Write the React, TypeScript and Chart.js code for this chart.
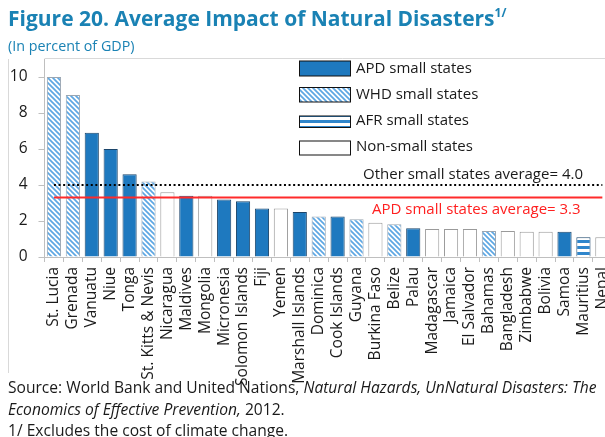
import React, { useEffect, useRef } from "react";
import { Chart, registerables } from "chart.js";

Chart.register(...registerables);

const categories = [
  "St. Lucia", "Grenada", "Vanuatu", "Niue", "Tonga", "St. Kitts & Nevis", "Nicaragua", "Maldives",
  "Mongolia", "Micronesia", "Solomon Islands", "Fiji", "Yemen", "Marshall Islands", "Dominica",
  "Cook Islands", "Guyana", "Burkina Faso", "Belize", "Palau", "Madagascar", "Jamaica", "El Salvador",
  "Bahamas", "Bangladesh", "Zimbabwe", "Bolivia", "Samoa", "Mauritius", "Nepal",
];
const values = [
  10.0, 9.0, 6.9, 6.0, 4.6, 4.2, 3.6, 3.4, 3.4, 3.2, 3.1, 2.7, 2.7, 2.5, 2.25,
  2.25, 2.1, 1.9, 1.82, 1.6, 1.55, 1.55, 1.55, 1.45, 1.45, 1.4, 1.4, 1.4, 1.1, 1.1,
];
const groups = [
  "WHD", "WHD", "APD", "APD", "APD", "WHD", "NON", "APD", "NON", "APD", "APD", "APD", "NON", "APD", "WHD",
  "APD", "WHD", "NON", "WHD", "APD", "NON", "NON", "NON", "WHD", "NON", "NON", "NON", "APD", "AFR", "NON",
];
const otherSmallAvg = 4.0;
const apdSmallAvg = 3.3;
const yMax = 11;
const yStep = 2;
const yLastTick = 10;
const legendGroups = ["APD", "WHD", "AFR", "NON"];
const legendLabels = ["APD small states", "WHD small states", "AFR small states", "Non-small states"];

const FONT = "'Open Sans', sans-serif";
const TEAL = "#1a82b4";
const APD_BLUE = "#1e79bf";
const TEXT = "#1a1a1a";

function makeDiagPattern(): CanvasPattern | string {
  const s = 5;
  const c = document.createElement("canvas");
  c.width = s;
  c.height = s;
  const g = c.getContext("2d");
  if (!g) return "#9cc8ee";
  g.fillStyle = "#ffffff";
  g.fillRect(0, 0, s, s);
  g.strokeStyle = "#5ea7e3";
  g.lineWidth = 1.7;
  g.beginPath();
  for (const o of [-s, 0, s]) {
    g.moveTo(o - 1, -1);
    g.lineTo(o + s + 1, s + 1);
  }
  g.stroke();
  return g.createPattern(c, "repeat") || "#9cc8ee";
}

function makeHPattern(): CanvasPattern | string {
  const c = document.createElement("canvas");
  c.width = 4;
  c.height = 6;
  const g = c.getContext("2d");
  if (!g) return "#6fb1e6";
  g.fillStyle = "#ffffff";
  g.fillRect(0, 0, 4, 6);
  g.fillStyle = "#2f86cc";
  g.fillRect(0, 0, 4, 3);
  return g.createPattern(c, "repeat") || "#6fb1e6";
}

export default function App() {
  const ref = useRef<HTMLCanvasElement | null>(null);

  useEffect(() => {
    const canvas = ref.current;
    if (!canvas) return;
    const diag = makeDiagPattern();
    const hpat = makeHPattern();
    const fillFor = (g: string) => (g === "APD" ? APD_BLUE : g === "WHD" ? diag : g === "AFR" ? hpat : "#ffffff");
    const borderFor = (g: string) =>
      g === "APD" ? "#1b456b" : g === "WHD" ? "#9aa6b2" : g === "AFR" ? "#1b456b" : "#9a9a9a";

    const decor = {
      id: "decor",
      beforeDraw(chart: any) {
        const ctx = chart.ctx;
        const a = chart.chartArea;
        ctx.save();
        ctx.strokeStyle = "#d9d9d9";
        ctx.lineWidth = 1;
        ctx.beginPath();
        ctx.moveTo(a.left, Math.round(a.top) - 0.5);
        ctx.lineTo(chart.width, Math.round(a.top) - 0.5);
        ctx.moveTo(8.5, a.top);
        ctx.lineTo(8.5, 373);
        ctx.stroke();
        ctx.restore();
      },
      afterDraw(chart: any) {
        const ctx = chart.ctx;
        const y = chart.scales.y;
        ctx.save();
        ctx.font = `15px ${FONT}`;
        ctx.textBaseline = "middle";
        ctx.textAlign = "left";
        ctx.fillStyle = TEXT;
        ctx.fillText(`Other small states average= ${otherSmallAvg.toFixed(1)}`, 363, y.getPixelForValue(otherSmallAvg) - 10);
        ctx.fillStyle = "#ff2020";
        ctx.fillText(`APD small states average= ${apdSmallAvg.toFixed(1)}`, 372, y.getPixelForValue(apdSmallAvg) + 12.5);
        const boxes = [
          { top: 61, h: 15 },
          { top: 87.5, h: 14.5 },
          { top: 116, h: 11.5 },
          { top: 141, h: 14 },
        ];
        const textY = [68.3, 95, 120.5, 147];
        legendGroups.forEach((g, i) => {
          const b = boxes[i];
          ctx.fillStyle = fillFor(g);
          ctx.fillRect(299.5, b.top, 51, b.h);
          ctx.strokeStyle = "#111111";
          ctx.lineWidth = 1;
          ctx.strokeRect(299.5, b.top, 51, b.h);
          ctx.fillStyle = TEXT;
          ctx.font = `15px ${FONT}`;
          ctx.textBaseline = "middle";
          ctx.fillText(legendLabels[i], 356, textY[i]);
        });
        ctx.restore();
      },
    };

    const chart = new Chart(canvas, {
      type: "bar",
      data: {
        labels: categories,
        datasets: [
          {
            type: "line",
            data: categories.map(() => otherSmallAvg),
            borderColor: "#000000",
            borderWidth: 2.2,
            borderDash: [2, 2.6],
            pointRadius: 0,
            order: 0,
          } as any,
          {
            type: "line",
            data: categories.map(() => apdSmallAvg),
            borderColor: "#ff2b2b",
            borderWidth: 2,
            pointRadius: 0,
            order: 0,
          } as any,
          {
            type: "bar",
            data: values,
            backgroundColor: groups.map(fillFor),
            borderColor: groups.map(borderFor),
            borderWidth: 1,
            barPercentage: 0.75,
            categoryPercentage: 1,
            order: 1,
          } as any,
        ],
      },
      options: {
        animation: false,
        responsive: false,
        devicePixelRatio: 1,
        layout: { padding: { left: 0, top: 59, right: 28.2, bottom: 0 } },
        plugins: { legend: { display: false }, tooltip: { enabled: false } },
        scales: {
          x: {
            grid: { offset: true, drawOnChartArea: false, drawTicks: true, tickLength: 5, color: "#bfbfbf" },
            border: { color: "#bfbfbf" },
            ticks: {
              autoSkip: false,
              minRotation: 90,
              maxRotation: 90,
              padding: 5,
              font: { family: FONT, size: 15.5 },
              color: TEXT,
            },
            afterFit: (s: any) => {
              s.height = 180;
            },
          },
          y: {
            min: 0,
            max: yMax,
            ticks: { stepSize: yStep, padding: 11, font: { family: FONT, size: 15.5 }, color: TEXT },
            grid: { drawOnChartArea: false, tickLength: 6, color: "#bfbfbf" },
            border: { color: "#bfbfbf" },
            afterFit: (s: any) => {
              s.width = 44.5;
            },
            afterBuildTicks: (s: any) => {
              s.ticks = s.ticks.filter((t: any) => t.value % yStep === 0 && t.value <= yLastTick);
            },
          },
        },
      } as any,
      plugins: [decor],
    });
    return () => chart.destroy();
  }, []);

  return (
    <div style={{ position: "absolute", left: 0, top: 0, width: 605, height: 437, overflow: "hidden", background: "#fff" }}>
      <canvas ref={ref} width={640} height={437} style={{ position: "absolute", left: 0, top: 0, width: 640, height: 437 }} />
      <div style={{ position: "absolute", left: 8, top: 4, font: `bold 21px ${FONT}`, color: TEAL, whiteSpace: "nowrap", lineHeight: "29px" }}>
        Figure 20. Average Impact of Natural Disasters
        <span style={{ fontSize: 12, position: "relative", top: -9 }}>1/</span>
      </div>
      <div style={{ position: "absolute", left: 8, top: 36, font: `14.3px ${FONT}`, color: TEAL, whiteSpace: "nowrap", lineHeight: "19px" }}>
        (In percent of GDP)
      </div>
      <div style={{ position: "absolute", left: 8, top: 377, font: `15.6px ${FONT}`, color: TEXT, whiteSpace: "nowrap", lineHeight: "21.5px" }}>
        <div>
          Source: World Bank and United Nations, <i>Natural Hazards, UnNatural Disasters: The</i>
        </div>
        <div>
          <i>Economics of Effective Prevention,</i> 2012.
        </div>
        <div>1/ Excludes the cost of climate change.</div>
      </div>
    </div>
  );
}
